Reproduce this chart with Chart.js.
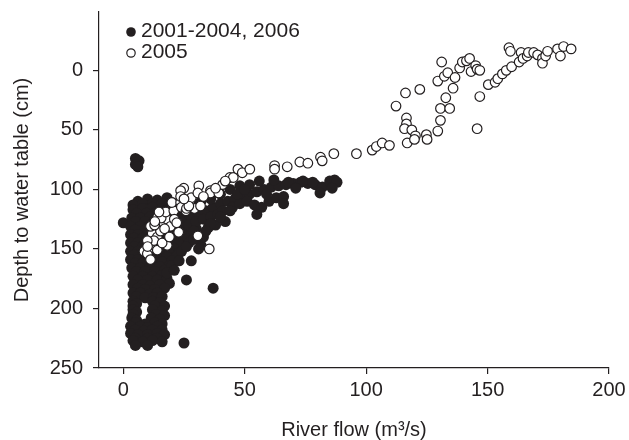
<!DOCTYPE html>
<html>
<head>
<meta charset="utf-8">
<script src="https://cdn.jsdelivr.net/npm/chart.js@4"></script>
<style>
  body { margin: 0; background: #fff; }
  #wrap { width: 629px; height: 440px; }
</style>
</head>
<body>
<div id="wrap"><canvas id="flowChart"></canvas></div>
<script>
// Series labels
const seriesLabels = ['2001-2004, 2006', '2005'];

// 2001-2004 and 2006: [river flow (m3/s), depth to water table (cm)]
const otherYears = [
    [5,74],[6.5,76],[5,79],[6,81],[0,128],[25,229],[37,183],[26,176],[28,160],[32,147],
    [6,110],[10,108],[14,109],[18,107],
    [4,113],[8,112],[12,112],[16,112],[20,111],
    [4,117],[8,116],[12,115],[16,116],[20,114],
    [5.5,120],[9.5,120],[13.5,119],[17.5,118],[21,117],
    [3.5,124],[7,124],[11,123],[15,122],[19,121],[23,120],
    [5,127],[9,127],[13,126],[17,125],[21,124],[26,124],
    [3,131],[7,131],[11,130],[15,129],[19,128],[24,127],[28,126],
    [5,134],[9,134],[13,133],[17,133],[21,132],[25,131],
    [3,138],[6,138],[10,138],[14,137],[18,136],[22,135],[26,134],[30,133],
    [4.5,141],[8,141],[12,141],[16,140],[20,139],[24,138],[28,138],
    [3,145],[6,145],[9,145],[13,145],[17,144],[21,143],[25,142],
    [4.5,148],[8,148],[11,148],[15,148],[19,147],[23,146],
    [3,152],[6,152],[9,152],[13,152],[17,151],[21,150],
    [4.5,155],[8,155],[11,155],[15,155],[19,154],[23,153],
    [3,159],[6,159],[10,159],[14,158],[18,157],[22,156],
    [5,162],[8,162],[12,162],[16,161],[20,160],
    [3.5,166],[7,166],[11,166],[15,165],[19,164],
    [5.5,169],[9,169],[13,169],[17,168],
    [4,173],[8,173],[12,173],[16,172],
    [6,176],[10,176],[14,176],[18,175],
    [4,180],[8,180],[11,181],[15,180],[19,179],
    [6,183],[9,184],[13,184],[17,183],
    [4,187],[7,187],[11,188],[14,187],
    [5.5,190],[9,191],[12.5,191],[16,190],
    [4,194],[5.5,196],[12,194],[15,195],
    [4,198],[13,198],[17,198],
    [4,201],[5.5,203],[12,201],[16,202],
    [4,205],[13.5,205],[17,206],
    [3.5,208],[5.5,210],[11.5,208],[15,209],
    [5,212],[9,213],[13,212],[16,213],
    [3,215],[7,215],[10,216],[14,215],
    [5,218],[8.5,219],[12,218],[16,218],
    [3,221],[6,222],[10,222],[14,221],[17,222],
    [5,225],[10,225],[14,225],
    [4,227],[8,228],[12,227],[16,228],
    [5,231],[10,231],
    [22,120],[25,118],[28,122],[31,120],[34,118],[37,115],[40,112],[43,110],[46,108],[49,106],
    [52,104],[55,102],[58,100],[61,98],[64,97],[67,96],[70,95],[73,94],[76,95],[79,96],
    [82,98],[85,93],[87,92],[88,94],[86,99],
    [24,128],[27,130],[30,127],[33,125],[36,123],[39,121],[42,127],[38,130],[35,132],[41,118],
    [45,115],[48,112],[51,110],[54,113],[57,115],[60,110],[63,107],[66,106],[66,112],[55,121],
    [48,97],[52,96],[56,93],[62,92],[68,94],[81,103],[74,93],[78,94],
    [29,135],[33,140],[27,145],[31,150],[24,152],[20,164],[18,170],[36,129],[40,123],
    [44,100],[40,104],[36,108],[32,110],[28,112],
    [26,148],[29,142],[23,160],[21,168],[34,135],[44,118],[47,104],[50,100],[59,104],[71,99]
];

// 2005: [river flow (m3/s), depth to water table (cm)]
const year2005 = [
    [8.5,152],[9.9,154],[11.2,159],[12.6,149],[14,151],[18.1,147],[11.9,137],[14,140],[12.6,143],[9.9,143],
    [15.3,135],[11.2,131],[12.9,130],[16.7,128],[18.1,125],[19.5,131],[22.8,136],[14.2,123],[15.6,124],[17.5,119],
    [14.7,119],[20.8,118],[20,111],[23.6,111],[23.9,115],[25.8,118],[27.4,112],[29.3,116],[31.8,114],[30.7,139],
    [35.4,150],[24.9,99],[23.6,101],[23.6,106],[28,107],[31.1,97],[30.7,103],[35.9,101],[35.9,103],[39.3,103],
    [40.9,96],[43.9,90],[45.3,90],[47.2,83],[49,86],[52.1,83],[62.3,80],[62.3,83],[67.5,81],[72.7,77],
    [76,78],[81.2,73],[81.9,76],[86.7,70],[96,70],[102.5,67],[104.2,64],[106.6,61],[109.6,63],
    [26,116],[27,114],[21,125],[17,133],[13,127],[10,148],[16,145],[19,140],[22,128],[25,108],
    [33,106],[38,99],[42,93],
    [112.3,30],[116.2,19],[122.1,16],[116.6,40],[116.6,45],[115.8,49],[118.8,50],[116.9,61],[120.3,55],[119.9,58],
    [124.8,54],[125.1,58],[129.5,51],[130.6,42],[130.6,32],[134.4,32],[132.8,23],[135.8,15],[129.5,9],[132.2,5],
    [133.6,2],[136.6,6],[131.1,-7],[138.5,-2],[139.6,-7],[141.3,-8],[142.6,-10],[143.2,1],[145.1,-4],[145.7,-1],
    [146.8,0],[146.8,22],[145.7,49],[150.3,12],[153.1,10],[154.2,7],[156.1,3],[157.7,0],[159.9,-3],[158.8,-19],
    [159.4,-16],[163,-7],[163.8,-15],[164.6,-10],[166.3,-12],[166.8,-15],[169,-15],[170.6,-13],[172.6,-10],[172.6,-6],
    [173.9,-12],[174.7,-16],[178.8,-18],[180,-12],[181.3,-20],[184.4,-18]
];

// Axis ticks
const flowTicks = [0, 50, 100, 150, 200];
const depthTicks = [0, 50, 100, 150, 200, 250];

const ink = '#231f20';
const fontFamily = '"Liberation Sans", Arial, sans-serif';

function toPoints(rows) {
    return rows.map(([x, y]) => ({ x: x, y: y }));
}

// Legend in the upper left corner of the plot
const cornerLegend = {
    id: 'cornerLegend',
    afterDraw(chart) {
        const ctx = chart.ctx;
        const rows = [
            { y: 31, text: seriesLabels[0], filled: true },
            { y: 52, text: seriesLabels[1], filled: false }
        ];
        ctx.save();
        ctx.font = '21px ' + fontFamily;
        ctx.textBaseline = 'middle';
        rows.forEach(r => {
            ctx.beginPath();
            ctx.arc(131, r.y + 1, r.filled ? 4.8 : 4.2, 0, Math.PI * 2);
            if (r.filled) {
                ctx.fillStyle = ink;
                ctx.fill();
            } else {
                ctx.fillStyle = '#fff';
                ctx.fill();
                ctx.lineWidth = 1.2;
                ctx.strokeStyle = ink;
                ctx.stroke();
            }
            ctx.fillStyle = ink;
            ctx.fillText(r.text, 141, r.y);
        });
        ctx.restore();
    }
};

function renderChart() {
    const ctx = document.getElementById('flowChart').getContext('2d');

    new Chart(ctx, {
        type: 'scatter',
        data: {
            datasets: [{
                label: seriesLabels[0],
                data: toPoints(otherYears),
                backgroundColor: ink,
                borderWidth: 0,
                pointRadius: 5.5,
                order: 1
            }, {
                label: seriesLabels[1],
                data: toPoints(year2005),
                backgroundColor: '#fff',
                borderColor: ink,
                borderWidth: 1.2,
                pointRadius: 4.8,
                order: 0
            }]
        },
        options: {
            responsive: true,
            maintainAspectRatio: false,
            animation: false,
            layout: { padding: { left: 0, right: 20, top: 12, bottom: 0 } },
            scales: {
                x: {
                    type: 'linear',
                    min: -10,
                    max: 200,
                    afterBuildTicks: s => { s.ticks = flowTicks.map(v => ({ value: v })); },
                    afterFit: s => { s.height = 72; s.paddingLeft = 0; s.paddingRight = 0; },
                    grid: { drawOnChartArea: false, drawTicks: true, tickLength: 6, color: ink, lineWidth: 1.2 },
                    border: { display: true, color: ink, width: 1.2 },
                    ticks: { color: ink, font: { family: fontFamily, size: 20 }, padding: 4, maxRotation: 0 },
                    title: {
                        display: true,
                        text: 'River flow (m³/s)',
                        color: ink,
                        font: { family: fontFamily, size: 20, lineHeight: 1 },
                        padding: { top: 0, bottom: 0 }
                    }
                },
                y: {
                    type: 'linear',
                    reverse: true,
                    min: -49,
                    max: 250,
                    afterBuildTicks: s => { s.ticks = depthTicks.map(v => ({ value: v })); },
                    afterFit: s => { s.width = 99; s.paddingTop = 0; s.paddingBottom = 0; },
                    grid: { drawOnChartArea: false, drawTicks: true, tickLength: 6, color: ink, lineWidth: 1.2 },
                    border: { display: true, color: ink, width: 1.2 },
                    ticks: { color: ink, font: { family: fontFamily, size: 20 }, padding: 10 },
                    title: {
                        display: true,
                        text: 'Depth to water table (cm)',
                        color: ink,
                        font: { family: fontFamily, size: 20, lineHeight: 1 },
                        padding: { top: 12, bottom: 0 }
                    }
                }
            },
            plugins: {
                legend: { display: false },
                tooltip: { enabled: false }
            }
        },
        plugins: [cornerLegend]
    });
}

document.addEventListener('DOMContentLoaded', renderChart);
</script>
</body>
</html>
